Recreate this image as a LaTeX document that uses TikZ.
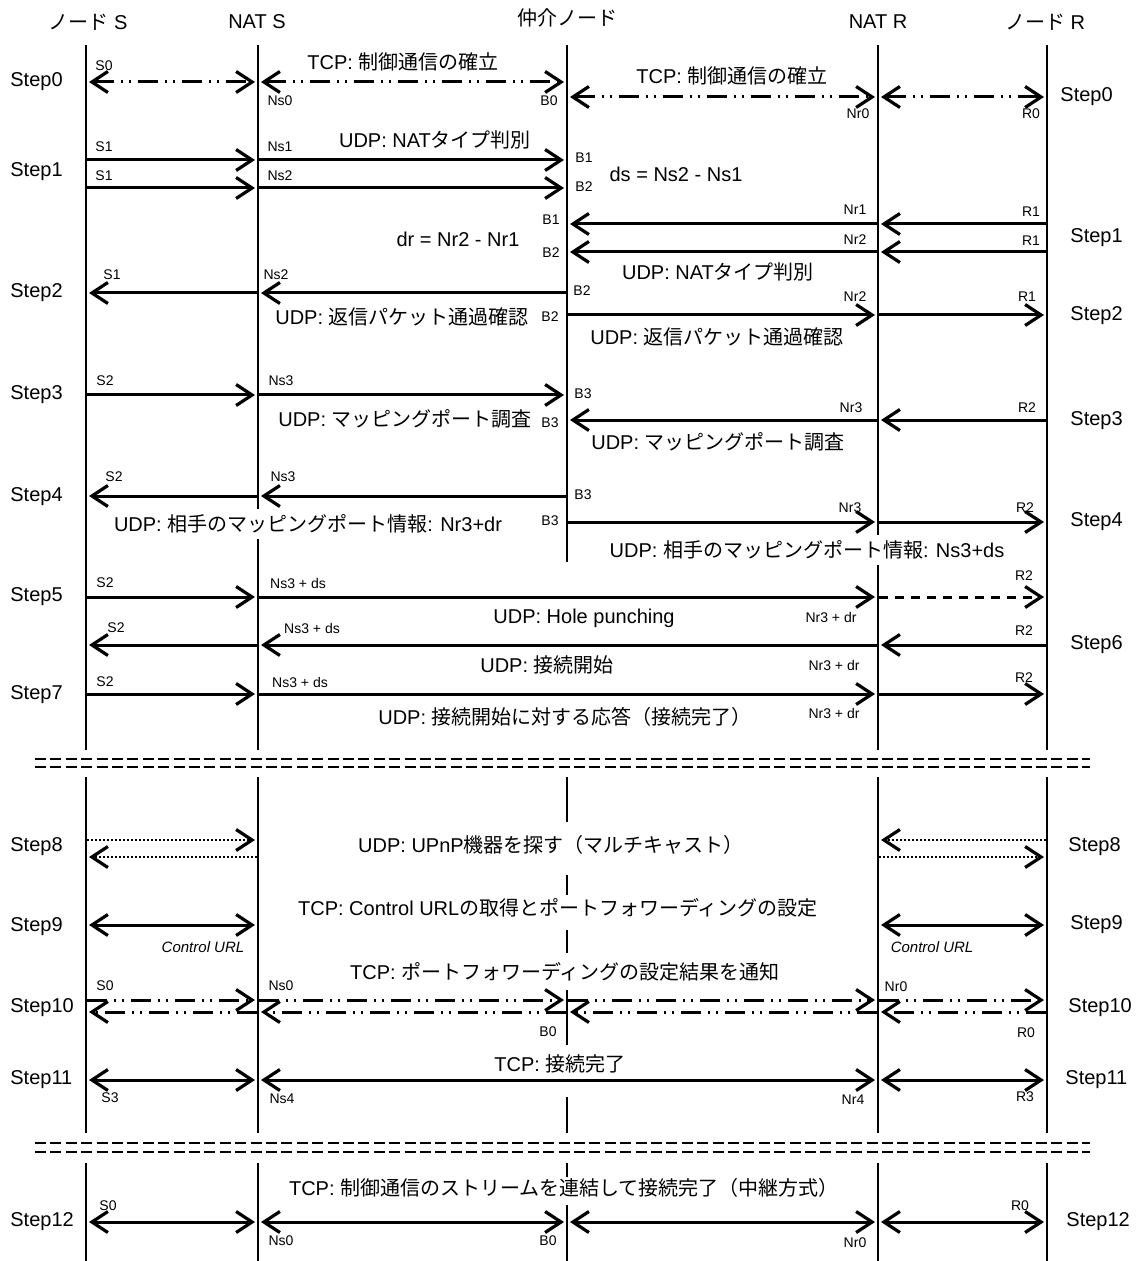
\documentclass[tikz,border=0pt]{standalone}
\usepackage{fontspec}
\setmainfont{Liberation Sans}
\newfontfamily\jp{Noto Sans CJK JP}
\usetikzlibrary{arrows.meta,calc}
\newcommand\J[1]{{\jp #1}}
% arrow between two lifelines at height y
\newcommand\Msg[4]{\draw[#1] ($(#2)+(0,#4)$) -- ($(#3)+(0,#4)$);}
\newcommand\Lane[3]{\draw[lane] ($(#1)+(0,#2)$) -- ($(#1)+(0,#3)$);}
\begin{document}
\begin{tikzpicture}[x=0.5pt,y=-0.5pt,
  lane/.style={line width=0.75pt},
  tipb/.tip={Straight Barb[length=8pt,width=10.5pt,line width=1.6pt]},
  msg/.style={line width=1.5pt,-tipb,shorten >=1.5pt,shorten <=0.5pt},
  bi/.style={line width=1.5pt,tipb-tipb,shorten >=1.5pt,shorten <=1.5pt},
  ddot/.style={dash pattern=on 10pt off 3.5pt on 1pt off 3pt on 1pt off 3.5pt},
  dotl/.style={line width=1.3pt,dash pattern=on 1pt off 1pt},
  dsh/.style={dash pattern=on 4.5pt off 3.5pt},
  sepline/.style={line width=1pt,dash pattern=on 5.5pt off 2.2pt},
  stp/.style={font=\fontsize{10}{12}\selectfont,inner sep=0pt,anchor=west},
  lbl/.style={font=\fontsize{10}{12}\selectfont,inner sep=0pt},
  wl/.style={font=\fontsize{10}{12}\selectfont,fill=white,inner sep=3pt},
  sm/.style={font=\fontsize{7}{8}\selectfont,inner sep=0pt},
  curl/.style={font=\fontsize{7.5}{9}\selectfont\itshape,inner sep=0pt},
  hd/.style={font=\fontsize{10}{12}\selectfont,inner sep=0pt},
]
\useasboundingbox (0,0) rectangle (1138,1261);
% lifelines
\coordinate (LS) at (86,0);
\coordinate (LNS) at (258,0);
\coordinate (LM) at (567,0);
\coordinate (LNR) at (878,0);
\coordinate (LR) at (1047,0);
\foreach \n in {LS,LNS,LNR,LR}{
  \Lane{\n}{45}{750}
  \Lane{\n}{777}{1133}
  \Lane{\n}{1163}{1261}
}
\Lane{LM}{45}{562}
\Lane{LM}{777}{822}
\Lane{LM}{875}{895}
\Lane{LM}{930}{953}
\Lane{LM}{990}{1045}
\Lane{LM}{1097}{1133}
\Lane{LM}{1163}{1177}
\Lane{LM}{1205}{1261}

% separators
\coordinate (sepL) at (35,0);
\coordinate (sepR) at (1090,0);
\foreach \yy in {759,767,1143,1152}{ \Msg{sepline}{sepL}{sepR}{\yy} }

% headers
\node[hd] (hS) at (88,22) {\J{ノード} S};
\node[hd] (hNS) at (257,22) {NAT S};
\node[hd] (hM) at (567,18) {\J{仲介ノード}};
\node[hd] (hNR) at (878,22) {NAT R};
\node[hd] (hR) at (1045,22) {\J{ノード} R};

% step labels
\node[stp] (sl0) at (10,82) {Step0};
\node[stp] (sl1) at (10,172) {Step1};
\node[stp] (sl2) at (10,293) {Step2};
\node[stp] (sl3) at (10,395) {Step3};
\node[stp] (sl4) at (10,497) {Step4};
\node[stp] (sl5) at (10,597) {Step5};
\node[stp] (sl7) at (10,695) {Step7};
\node[stp] (sl8) at (10,847) {Step8};
\node[stp] (sl9) at (10,927) {Step9};
\node[stp] (sl10) at (10,1008) {Step10};
\node[stp] (sl11) at (10,1080) {Step11};
\node[stp] (sl12) at (10,1222) {Step12};
\node[stp] (sr0) at (1060,97) {Step0};
\node[stp] (sr1) at (1070,238) {Step1};
\node[stp] (sr2) at (1070,316) {Step2};
\node[stp] (sr3) at (1070,421) {Step3};
\node[stp] (sr4) at (1070,522) {Step4};
\node[stp] (sr6) at (1070,645) {Step6};
\node[stp] (sr8) at (1068,847) {Step8};
\node[stp] (sr9) at (1070,925) {Step9};
\node[stp] (sr10) at (1068,1008) {Step10};
\node[stp] (sr11) at (1065,1080) {Step11};
\node[stp] (sr12) at (1066,1222) {Step12};

% main labels
\node[lbl] (t0a) at (403,62) {TCP: \J{制御通信の確立}};
\node[lbl] (t0b) at (732,76) {TCP: \J{制御通信の確立}};
\node[lbl] (t1a) at (435,140) {UDP: NAT\J{タイプ判別}};
\node[lbl] (tds) at (676,174) {ds = Ns2 - Ns1};
\node[lbl] (tdr) at (458,239) {dr = Nr2 - Nr1};
\node[lbl] (t1b) at (718,272) {UDP: NAT\J{タイプ判別}};
\node[lbl] (t2a) at (402,317) {UDP: \J{返信パケット通過確認}};
\node[lbl] (t2b) at (717,337) {UDP: \J{返信パケット通過確認}};
\node[lbl] (t3a) at (405,419) {UDP: \J{マッピングポート調査}};
\node[lbl] (t3b) at (718,442) {UDP: \J{マッピングポート調査}};
\node[wl] (t4a) at (308,524) {UDP: \J{相手のマッピングポート情報}: Nr3+dr};
\node[wl] (t4b) at (807,550) {UDP: \J{相手のマッピングポート情報}: Ns3+ds};
\node[lbl] (t5) at (584,618) {UDP: Hole punching};
\node[lbl] (t6) at (547,665) {UDP: \J{接続開始}};
\node[lbl] (t7) at (565,717) {UDP: \J{接続開始に対する応答（接続完了）}};
\node[lbl] (t8) at (551,845) {UDP: UPnP\J{機器を探す（マルチキャスト）}};
\node[lbl] (t9) at (558,908) {TCP: Control URL\J{の取得とポートフォワーディングの設定}};
\node[lbl] (t10) at (565,972) {TCP: \J{ポートフォワーディングの設定結果を通知}};
\node[lbl] (t11) at (560,1064) {TCP: \J{接続完了}};
\node[lbl] (t12) at (564,1188) {TCP: \J{制御通信のストリームを連結して接続完了（中継方式）}};

% small labels
\node[sm] (a1) at (104,66) {S0};
\node[sm] (a2) at (280,101) {Ns0};
\node[sm] (a3) at (549,101) {B0};
\node[sm] (a4) at (858,114) {Nr0};
\node[sm] (a5) at (1031,114) {R0};
\node[sm] (b1) at (104,147) {S1};
\node[sm] (b2) at (104,176) {S1};
\node[sm] (b3) at (280,147) {Ns1};
\node[sm] (b4) at (280,176) {Ns2};
\node[sm] (b5) at (584,158) {B1};
\node[sm] (b6) at (584,187) {B2};
\node[sm] (c1) at (551,220) {B1};
\node[sm] (c2) at (551,253) {B2};
\node[sm] (c3) at (855,210) {Nr1};
\node[sm] (c4) at (855,240) {Nr2};
\node[sm] (c5) at (1031,212) {R1};
\node[sm] (c6) at (1031,241) {R1};
\node[sm] (d1) at (112,275) {S1};
\node[sm] (d2) at (276,275) {Ns2};
\node[sm] (d3) at (582,291) {B2};
\node[sm] (d4) at (550,317) {B2};
\node[sm] (d5) at (855,297) {Nr2};
\node[sm] (d6) at (1027,297) {R1};
\node[sm] (e1) at (105,381) {S2};
\node[sm] (e2) at (281,381) {Ns3};
\node[sm] (e3) at (583,394) {B3};
\node[sm] (e4) at (550,423) {B3};
\node[sm] (e5) at (851,408) {Nr3};
\node[sm] (e6) at (1027,408) {R2};
\node[sm] (f1) at (114,477) {S2};
\node[sm] (f2) at (283,477) {Ns3};
\node[sm] (f3) at (583,495) {B3};
\node[sm] (f4) at (550,521) {B3};
\node[sm] (f5) at (850,508) {Nr3};
\node[sm] (f6) at (1025,508) {R2};
\node[sm] (g1) at (105,583) {S2};
\node[sm] (g2) at (298,583) {Ns3 + ds};
\node[sm] (g3) at (1024,576) {R2};
\node[sm] (g4) at (831,617) {Nr3 + dr};
\node[sm] (h1) at (116,628) {S2};
\node[sm] (h2) at (312,628) {Ns3 + ds};
\node[sm] (h3) at (1024,631) {R2};
\node[sm] (h4) at (834,665) {Nr3 + dr};
\node[sm] (i1) at (105,682) {S2};
\node[sm] (i2) at (300,682) {Ns3 + ds};
\node[sm] (i3) at (1024,678) {R2};
\node[sm] (i4) at (834,713) {Nr3 + dr};
\node[curl] (j1) at (203,947) {Control URL};
\node[curl] (j2) at (932,947) {Control URL};
\node[sm] (k1) at (105,986) {S0};
\node[sm] (k2) at (281,986) {Ns0};
\node[sm] (k3) at (548,1032) {B0};
\node[sm] (k4) at (896,987) {Nr0};
\node[sm] (k5) at (1026,1033) {R0};
\node[sm] (l1) at (110,1098) {S3};
\node[sm] (l2) at (282,1099) {Ns4};
\node[sm] (l3) at (853,1100) {Nr4};
\node[sm] (l4) at (1025,1097) {R3};
\node[sm] (m1) at (108,1206) {S0};
\node[sm] (m2) at (281,1241) {Ns0};
\node[sm] (m3) at (548,1241) {B0};
\node[sm] (m4) at (855,1243) {Nr0};
\node[sm] (m5) at (1020,1206) {R0};

% Step0
\Msg{bi,ddot}{LS}{LNS}{82}
\Msg{bi,ddot}{LNS}{LM}{82}
\Msg{bi,ddot}{LM}{LNR}{97}
\Msg{bi,ddot}{LNR}{LR}{97}
% Step1
\Msg{msg}{LS}{LNS}{160}
\Msg{msg}{LNS}{LM}{160}
\Msg{msg}{LS}{LNS}{188}
\Msg{msg}{LNS}{LM}{188}
\Msg{msg}{LR}{LNR}{224}
\Msg{msg}{LNR}{LM}{224}
\Msg{msg}{LR}{LNR}{252}
\Msg{msg}{LNR}{LM}{252}
% Step2
\Msg{msg}{LM}{LNS}{293}
\Msg{msg}{LNS}{LS}{293}
\Msg{msg}{LM}{LNR}{315}
\Msg{msg}{LNR}{LR}{315}
% Step3
\Msg{msg}{LS}{LNS}{395}
\Msg{msg}{LNS}{LM}{395}
\Msg{msg}{LR}{LNR}{420}
\Msg{msg}{LNR}{LM}{420}
% Step4
\Msg{msg}{LM}{LNS}{496}
\Msg{msg}{LNS}{LS}{496}
\Msg{msg}{LM}{LNR}{522}
\Msg{msg}{LNR}{LR}{522}
% Step5
\Msg{msg}{LS}{LNS}{597}
\Msg{msg}{LNS}{LNR}{597}
\Msg{msg,dsh}{LNR}{LR}{597}
% Step6
\Msg{msg}{LR}{LNR}{645}
\Msg{msg}{LNR}{LNS}{645}
\Msg{msg}{LNS}{LS}{645}
% Step7
\Msg{msg}{LS}{LNS}{694}
\Msg{msg}{LNS}{LNR}{694}
\Msg{msg}{LNR}{LR}{694}
% Step8
\Msg{msg,dotl}{LS}{LNS}{840}
\Msg{msg,dotl}{LNS}{LS}{857}
\Msg{msg,dotl}{LR}{LNR}{840}
\Msg{msg,dotl}{LNR}{LR}{857}
% Step9
\Msg{bi}{LS}{LNS}{925}
\Msg{bi}{LNR}{LR}{925}
% Step10
\Msg{msg,ddot}{LS}{LNS}{1000}
\Msg{msg,ddot}{LNS}{LM}{1000}
\Msg{msg,ddot}{LM}{LNR}{1000}
\Msg{msg,ddot}{LNR}{LR}{1000}
\Msg{msg,ddot}{LNS}{LS}{1012}
\Msg{msg,ddot}{LM}{LNS}{1012}
\Msg{msg,ddot}{LNR}{LM}{1012}
\Msg{msg,ddot}{LR}{LNR}{1012}
% Step11
\Msg{bi}{LS}{LNS}{1080}
\Msg{bi}{LNS}{LNR}{1080}
\Msg{bi}{LNR}{LR}{1080}
% Step12
\Msg{bi}{LS}{LNS}{1222}
\Msg{bi}{LNS}{LM}{1222}
\Msg{bi}{LM}{LNR}{1222}
\Msg{bi}{LNR}{LR}{1222}
\end{tikzpicture}
\end{document}
